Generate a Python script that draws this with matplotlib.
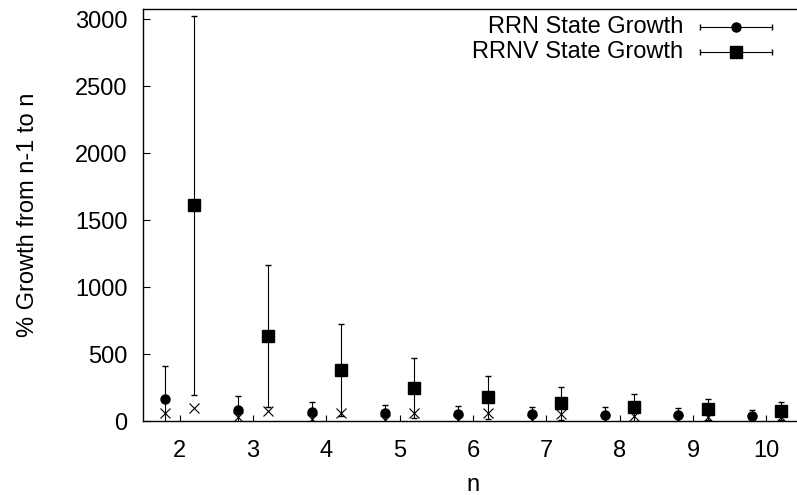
import numpy as np
import matplotlib
matplotlib.use("Agg")
import matplotlib.pyplot as plt
from matplotlib.lines import Line2D

plt.rcParams['font.family'] = ['Liberation Sans', 'DejaVu Sans']

# data
n = [2, 3, 4, 5, 6, 7, 8, 9, 10]
rrn_mean = [162, 82, 67, 57, 50, 50, 45, 42, 37]
rrn_err = [251, 104, 77, 62, 64, 57, 57, 53, 45]
rrn_x = [57, 30, 15, 10, 10, 8, 8, 8, 8]
rrnv_mean = [1610, 634, 380, 249, 177, 132, 102, 87, 75]
rrnv_err = [1414, 530, 344, 223, 159, 122, 102, 79, 65]
rrnv_x = [95, 75, 62, 57, 60, 52, 37, 30, 30]

x = np.array(n, dtype=float)
off = 0.2

fig = plt.figure(figsize=(7.97, 4.95), dpi=100)
# axes run past the right edge, as in the original
ax = fig.add_axes([143/797, 74/495, 660/797, 412/495])

ax.errorbar(x - off, rrn_mean, yerr=rrn_err, fmt='o', color='black', ms=6.5,
            elinewidth=0.8, capsize=2.5, capthick=1.0)
ax.errorbar(x + off, rrnv_mean, yerr=rrnv_err, fmt='s', color='black', ms=8,
            elinewidth=0.8, capsize=2.5, capthick=1.0)
ax.plot(x - off, rrn_x, 'x', color='black', ms=7, mew=0.8)
ax.plot(x + off, rrnv_x, 'x', color='black', ms=7, mew=0.8)

ax.set_xlim(1.5, 10.5)
ax.set_ylim(0, 3075)
ax.set_xticks(n)
ax.set_yticks([0, 500, 1000, 1500, 2000, 2500, 3000])
ax.tick_params(direction='in', labelsize=17, width=0.8)
ax.tick_params(axis='x', length=4, pad=14, top=False)
ax.tick_params(axis='y', length=5, pad=11, right=False)
for s in ax.spines.values():
    s.set_linewidth(1.0)

ax.set_xlabel('n', fontsize=17, labelpad=8)
ax.set_ylabel('% Growth from n-1 to n', fontsize=17, labelpad=26)

# gnuplot-style key: text right aligned, sample on the right
tx = 0.818
x0, x1, xm = 0.844, 0.953, 0.898
for yk, lab, mk, ms in [(0.956, 'RRN State Growth', 'o', 6.5),
                        (0.896, 'RRNV State Growth', 's', 8)]:
    ax.text(tx, yk, lab, transform=ax.transAxes, ha='right', va='center', fontsize=17)
    ax.add_line(Line2D([x0, x1], [yk, yk], transform=ax.transAxes, color='black', lw=0.8))
    ax.add_line(Line2D([x0, x1], [yk, yk], transform=ax.transAxes, color='black',
                       ls='none', marker='|', ms=4, mew=1.0))
    ax.add_line(Line2D([xm], [yk], transform=ax.transAxes, color='black',
                       ls='none', marker=mk, ms=ms))

fig.savefig('out.png', dpi=100)
